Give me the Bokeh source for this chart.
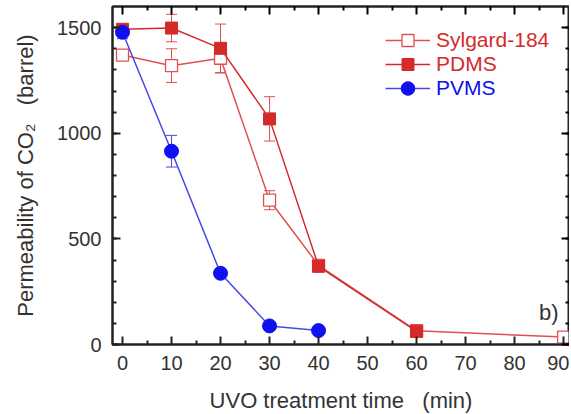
from bokeh.plotting import figure
from bokeh.models import (ColumnDataSource, Whisker, TeeHead, Legend, LegendItem,
                          LinearAxis, Label, Range1d, FixedTicker, CustomJSTickFormatter)
from bokeh.embed import file_html
from bokeh.resources import INLINE

# ---- data ----
x_syl = [0, 10, 20, 30, 40, 60, 90]
y_syl = [1370, 1320, 1355, 683, 375, 65, 35]
e_syl = [25, 80, 70, 45, 20, 15, 10]

x_pdms = [0, 10, 20, 30, 40, 60]
y_pdms = [1492, 1498, 1402, 1068, 370, 62]
e_pdms = [20, 65, 115, 105, 25, 15]

x_pvms = [0, 10, 20, 30, 40]
y_pvms = [1478, 915, 337, 88, 66]
e_pvms = [30, 75, 15, 10, 10]

x_ticks = [0, 10, 20, 30, 40, 50, 60, 70, 80, 90]
y_ticks = [0, 500, 1000, 1500]

RED = "#d42a2a"
RED_L = "#e05050"
BLUE = "#1010f0"
BLUE_L = "#4848e8"
TXT = "#333333"
FONT = "Liberation Sans"
NB = "\u00a0"

p = figure(frame_width=457, frame_height=338, output_backend="svg", toolbar_location=None,
           x_range=Range1d(-2.04, 91.2), y_range=Range1d(0, 1600),
           min_border_left=112, min_border_right=0, min_border_top=6, min_border_bottom=64)
p.grid.visible = False
p.outline_line_color = "#222222"
p.outline_line_width = 2
p.background_fill_color = "white"


def src(x, y, e):
    return ColumnDataSource(dict(x=x, y=y, upper=[a + b for a, b in zip(y, e)],
                                 lower=[a - b for a, b in zip(y, e)]))


s_syl = src(x_syl, y_syl, e_syl)
s_pdms = src(x_pdms, y_pdms, e_pdms)
s_pvms = src(x_pvms, y_pvms, e_pvms)

for s, c in [(s_syl, RED_L), (s_pdms, RED_L), (s_pvms, BLUE_L)]:
    w = Whisker(base="x", upper="upper", lower="lower", source=s, line_color=c, line_width=1,
                upper_head=TeeHead(size=11, line_color=c, line_width=1),
                lower_head=TeeHead(size=11, line_color=c, line_width=1))
    p.add_layout(w)

l1 = p.line("x", "y", source=s_syl, line_color=RED_L, line_width=1.5)
m1 = p.scatter("x", "y", source=s_syl, marker="square", size=12, fill_color="white",
               line_color=RED_L, line_width=1.3)
l2 = p.line("x", "y", source=s_pdms, line_color=RED, line_width=1.5)
m2 = p.scatter("x", "y", source=s_pdms, marker="square", size=12, fill_color=RED,
               line_color=RED, line_width=1)
l3 = p.line("x", "y", source=s_pvms, line_color=BLUE_L, line_width=1.5)
m3 = p.scatter("x", "y", source=s_pvms, marker="circle", size=14, fill_color=BLUE,
               line_color=BLUE, line_width=1)

# axes
for ax in (p.xaxis[0], p.yaxis[0]):
    ax.axis_line_width = 2
    ax.axis_line_color = "#222222"
    ax.major_tick_in = 8
    ax.major_tick_out = 0
    ax.minor_tick_in = 4
    ax.minor_tick_out = 0
    ax.major_tick_line_width = 2
    ax.minor_tick_line_width = 2
    ax.major_tick_line_color = "#222222"
    ax.minor_tick_line_color = "#222222"
    ax.major_label_text_font = FONT
    ax.major_label_text_font_size = "20px"
    ax.major_label_text_color = TXT
    ax.axis_label_text_font = FONT
    ax.axis_label_text_font_size = "22px"
    ax.axis_label_text_font_style = "normal"
    ax.axis_label_text_color = TXT

p.xaxis[0].ticker = FixedTicker(ticks=x_ticks, minor_ticks=[v + 5 for v in x_ticks])
p.yaxis[0].ticker = FixedTicker(ticks=y_ticks, minor_ticks=list(range(0, 1600, 100)))
p.xaxis[0].axis_label = "UVO treatment time" + NB * 3 + "(min)"
p.yaxis[0].axis_label = "Permeability of CO\u2082" + NB * 3 + "(barrel)"
p.xaxis[0].major_label_standoff = 11
p.yaxis[0].major_label_standoff = 11
p.xaxis[0].axis_label_standoff = 15
p.yaxis[0].axis_label_standoff = 16

blank = CustomJSTickFormatter(code="return ''")
rax = LinearAxis(ticker=FixedTicker(ticks=y_ticks, minor_ticks=list(range(0, 1600, 100))),
                 formatter=blank, major_label_text_font_size="0px")
tax = LinearAxis(ticker=FixedTicker(ticks=x_ticks, minor_ticks=[v + 5 for v in x_ticks]),
                 formatter=blank, major_label_text_font_size="0px")
for ax in (rax, tax):
    ax.axis_line_width = 2
    ax.axis_line_color = "#222222"
    ax.major_tick_in = 8
    ax.major_tick_out = 0
    ax.minor_tick_in = 4
    ax.minor_tick_out = 0
    ax.major_tick_line_width = 2
    ax.minor_tick_line_width = 2
    ax.major_label_standoff = 0
p.add_layout(rax, "right")
p.add_layout(tax, "above")

# legends (one per series, to colour labels); centre heights in frame px
entries = [("Sylgard-184", [l1, m1], RED, 304, 30), ("PDMS", [l2, m2], RED, 280, 30),
           ("PVMS", [l3, m3], BLUE, 256, 34)]
for name, rends, col, cy, gh in entries:
    lg = Legend(items=[LegendItem(label=name, renderers=rends)], location=(273, cy - gh // 2),
                border_line_color=None, background_fill_alpha=0, padding=0, margin=0,
                glyph_width=45, glyph_height=gh, label_height=gh, label_standoff=6,
                label_text_font=FONT, label_text_font_size="21px", label_text_color=col)
    p.add_layout(lg)

p.add_layout(Label(x=85, y=150, text="b)", text_font=FONT, text_font_size="22px",
                   text_color=TXT, text_baseline="middle"))

open("out.html", "w").write(file_html(p, INLINE))
